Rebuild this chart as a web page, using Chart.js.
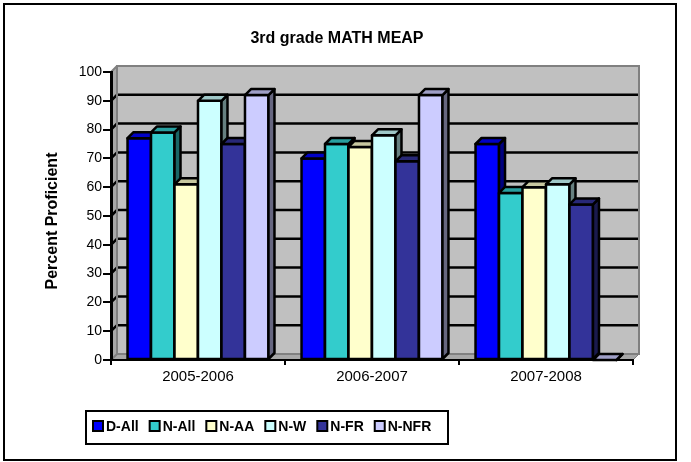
<!DOCTYPE html>
<html><head><meta charset="utf-8">
<script src="https://cdn.jsdelivr.net/npm/chart.js@4.4.0/dist/chart.umd.min.js"></script>
<style>html,body{margin:0;padding:0;background:#fff;} #wrap{width:691px;height:462px;}</style>
</head><body><div id="wrap"><canvas id="c" width="691" height="462"></canvas></div>
<script>
// ---- data ----
const categories = ['2005-2006', '2006-2007', '2007-2008'];
const seriesNames = ['D-All', 'N-All', 'N-AA', 'N-W', 'N-FR', 'N-NFR'];
const dAll = [77, 70, 75];
const nAll = [79, 75, 58];
const nAA  = [61, 74, 60];
const nW   = [90, 78, 61];
const nFR  = [75, 69, 54];
const nNFR = [92, 92, 0];
const yTicks = [0, 10, 20, 30, 40, 50, 60, 70, 80, 90, 100];
const chartTitle = '3rd grade MATH MEAP';
const yTitle = 'Percent Proficient';

// ---- styles ----
const seriesValues = [dAll, nAll, nAA, nW, nFR, nNFR];
const frontColors = ['#0000FF', '#33CCCC', '#FFFFCC', '#CCFFFF', '#333399', '#CCCCFF'];
const FONT = '"Liberation Sans", Arial, sans-serif';
const DX = 6, DY = -6;

function shade(hex, f) {
  const n = parseInt(hex.slice(1), 16);
  const r = Math.round(((n >> 16) & 255) * f), g = Math.round(((n >> 8) & 255) * f), b = Math.round((n & 255) * f);
  return `rgb(${r},${g},${b})`;
}
function poly(ctx, pts) {
  ctx.beginPath();
  ctx.moveTo(pts[0][0], pts[0][1]);
  for (let i = 1; i < pts.length; i++) ctx.lineTo(pts[i][0], pts[i][1]);
  ctx.closePath();
}

const chart3d = {
  id: 'chart3d',
  beforeDraw(chart) {
    const { ctx, chartArea: a, scales: { y } } = chart;
    const L = a.left, R = a.right, T = a.top, B = a.bottom;
    ctx.save();
    ctx.fillStyle = '#c0c0c0';
    ctx.fillRect(L + DX, T + DY, R - L, B - T);
    ctx.fillStyle = '#a8a8a8';
    poly(ctx, [[L, T], [L + DX, T + DY], [L + DX, B + DY], [L, B]]);
    ctx.fill();
    poly(ctx, [[L, B], [L + DX, B + DY], [R + DX, B + DY], [R, B]]);
    ctx.fill();
    ctx.strokeStyle = '#808080';
    ctx.lineWidth = 1;
    ctx.stroke();
    ctx.strokeStyle = '#000';
    ctx.lineWidth = 2.5;
    yTicks.forEach(v => {
      if (v === 0 || v === 100) return;
      const py = y.getPixelForValue(v);
      ctx.beginPath();
      ctx.moveTo(L, py);
      ctx.lineTo(L + DX, py + DY);
      ctx.lineTo(R + DX, py + DY);
      ctx.stroke();
    });
    ctx.strokeStyle = '#808080';
    ctx.lineWidth = 2;
    ctx.strokeRect(L + DX, T + DY, R - L, B - T);
    ctx.beginPath();
    ctx.moveTo(L, T); ctx.lineTo(L + DX, T + DY);
    ctx.moveTo(L + DX, B + DY); ctx.lineTo(L, B);
    ctx.stroke();
    ctx.restore();
  },
  afterDatasetsDraw(chart) {
    const { ctx } = chart;
    ctx.save();
    ctx.strokeStyle = '#000';
    ctx.lineWidth = 2.5;
    ctx.lineJoin = 'round';
    chart.data.datasets.forEach((ds, i) => {
      const meta = chart.getDatasetMeta(i);
      const base = frontColors[i];
      meta.data.forEach(bar => {
        const p = bar.getProps(['x', 'y', 'base', 'width'], true);
        const l = p.x - p.width / 2, r = p.x + p.width / 2, t = p.y, b = p.base;
        if (b - t > 0.5) {
          ctx.fillStyle = base;
          ctx.fillRect(l, t, r - l, b - t);
          ctx.strokeRect(l, t, r - l, b - t);
        }
        ctx.fillStyle = shade(base, 0.5);
        poly(ctx, [[r, t], [r + DX, t + DY], [r + DX, b + DY], [r, b]]);
        ctx.fill(); ctx.stroke();
        ctx.fillStyle = shade(base, 0.78);
        poly(ctx, [[l, t], [l + DX, t + DY], [r + DX, t + DY], [r, t]]);
        ctx.fill(); ctx.stroke();
      });
    });
    ctx.restore();
  },
  afterDraw(chart) {
    const { ctx } = chart;
    ctx.save();
    ctx.strokeStyle = '#000';
    ctx.lineWidth = 2;
    ctx.strokeRect(4, 4, 672, 456);
    ctx.fillStyle = '#000';
    ctx.font = `bold 16px ${FONT}`;
    ctx.textAlign = 'center';
    ctx.textBaseline = 'alphabetic';
    ctx.fillText(chartTitle, 337, 43);
    ctx.save();
    ctx.translate(53, 221);
    ctx.rotate(-Math.PI / 2);
    ctx.font = `bold 16px ${FONT}`;
    ctx.textBaseline = 'middle';
    ctx.fillText(yTitle, 0, 0);
    ctx.restore();
    ctx.strokeRect(86, 411, 362, 33);
    ctx.font = `bold 14px ${FONT}`;
    ctx.textAlign = 'left';
    ctx.textBaseline = 'alphabetic';
    let x = 93;
    chart.data.datasets.forEach((ds, i) => {
      ctx.fillStyle = frontColors[i];
      ctx.fillRect(x, 421, 10, 10);
      ctx.lineWidth = 2;
      ctx.strokeRect(x, 421, 10, 10);
      ctx.fillStyle = '#000';
      ctx.fillText(ds.label, x + 13, 431);
      x += 13 + ctx.measureText(ds.label).width + 11;
    });
    ctx.restore();
  }
};

new Chart(document.getElementById('c'), {
  type: 'bar',
  data: {
    labels: categories,
    datasets: seriesNames.map((name, i) => ({
      label: name,
      data: seriesValues[i],
      backgroundColor: frontColors[i],
      borderColor: '#000',
      borderWidth: 0,
      categoryPercentage: 0.81,
      barPercentage: 1.0
    }))
  },
  options: {
    responsive: false,
    animation: false,
    devicePixelRatio: 1,
    layout: { padding: { left: 0, right: 58, top: 72, bottom: 0 } },
    plugins: { legend: { display: false }, title: { display: false }, tooltip: { enabled: false } },
    scales: {
      x: {
        afterFit: s => { s.height = 102; },
        grid: { offset: true, drawOnChartArea: false, drawTicks: true, tickLength: 5, color: '#000', lineWidth: 2 },
        border: { display: true, color: '#000', width: 2 },
        ticks: { color: '#000', font: { family: FONT, size: 15 }, padding: 3, maxRotation: 0 }
      },
      y: {
        min: 0, max: 100,
        afterFit: s => { s.width = 111; },
        afterBuildTicks: s => { s.ticks = yTicks.map(v => ({ value: v })); },
        grid: { drawOnChartArea: false, drawTicks: true, tickLength: 8, color: '#000', lineWidth: 2 },
        border: { display: true, color: '#000', width: 3 },
        ticks: { color: '#000', font: { family: FONT, size: 14 }, padding: 1 }
      }
    }
  },
  plugins: [chart3d]
});
</script>
</body></html>
